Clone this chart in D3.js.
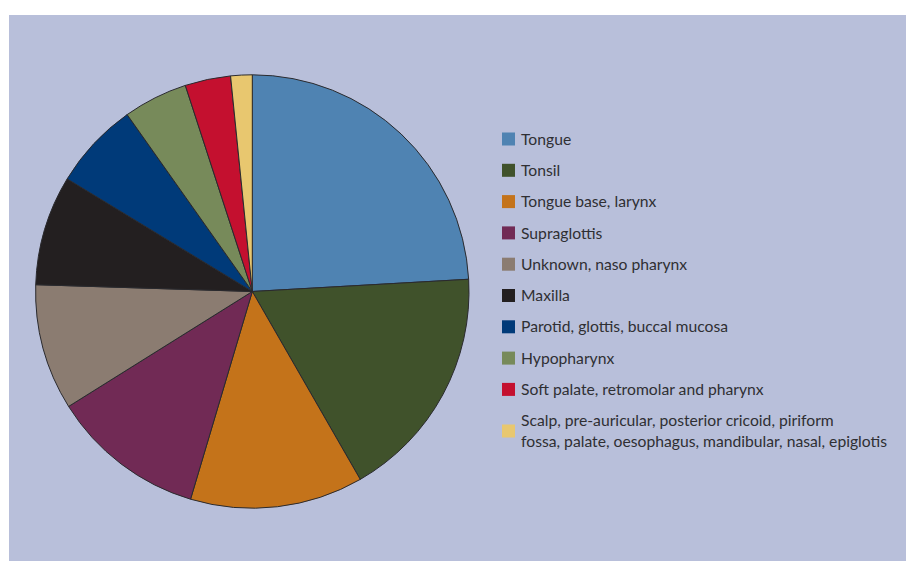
<!DOCTYPE html>
<html>
<head>
<meta charset="utf-8">
<script src="https://cdn.jsdelivr.net/npm/d3@7"></script>
<style>
  html, body { margin: 0; padding: 0; background: #ffffff; }
  svg { display: block; }
</style>
</head>
<body>
<svg id="chart" width="906" height="561"></svg>
<script>
const categories = [
  "Tongue",
  "Tonsil",
  "Tongue base, larynx",
  "Supraglottis",
  "Unknown, naso pharynx",
  "Maxilla",
  "Parotid, glottis, buccal mucosa",
  "Hypopharynx",
  "Soft palate, retromolar and pharynx",
  "Scalp, pre-auricular, posterior cricoid, piriform\nfossa, palate, oesophagus, mandibular, nasal, epiglotis"
];
const values = [24.1, 17.6, 12.9, 11.5, 9.4, 8.2, 6.5, 4.8, 3.4, 1.6];
const colors = ["#4f83b2", "#40522b", "#c4731a", "#712a55", "#8b7c71", "#231f20", "#003a79", "#778a5a", "#c4102f", "#e8c76f"];

const svg = d3.select("#chart");
svg.append("rect").attr("x", 9).attr("y", 15).attr("width", 897).attr("height", 546).attr("fill", "#b8bfda");

const cx = 252.3, cy = 291.5, r = 216.7;
const pie = d3.pie().sort(null).value(d => d)(values);
const arc = d3.arc().innerRadius(0).outerRadius(r);
const g = svg.append("g").attr("transform", `translate(${cx},${cy})`);
g.selectAll("path").data(pie).join("path")
  .attr("d", arc)
  .attr("fill", (d, i) => colors[i])
  .attr("stroke", "#2a2a2e")
  .attr("stroke-width", 1)
  .attr("stroke-linejoin", "round");

const legend = svg.append("g").attr("font-family", "Lato, sans-serif").attr("font-size", 15.7).attr("fill", "#2f2f33");
const rowStep = 31.3, lineStep = 20.6;
let yc = 139;
categories.forEach((c, i) => {
  const lines = c.split("\n");
  if (i > 0) yc += rowStep + (lines.length - 1) * lineStep / 2;
  legend.append("rect").attr("x", 502).attr("y", yc - 6.5).attr("width", 13).attr("height", 13).attr("fill", colors[i]);
  const t = legend.append("text").attr("x", 521);
  lines.forEach((ln, k) => {
    t.append("tspan").attr("x", 521)
      .attr("y", yc + (k - (lines.length - 1) / 2) * lineStep)
      .attr("dy", "0.36em")
      .text(ln);
  });
});
</script>
</body>
</html>
